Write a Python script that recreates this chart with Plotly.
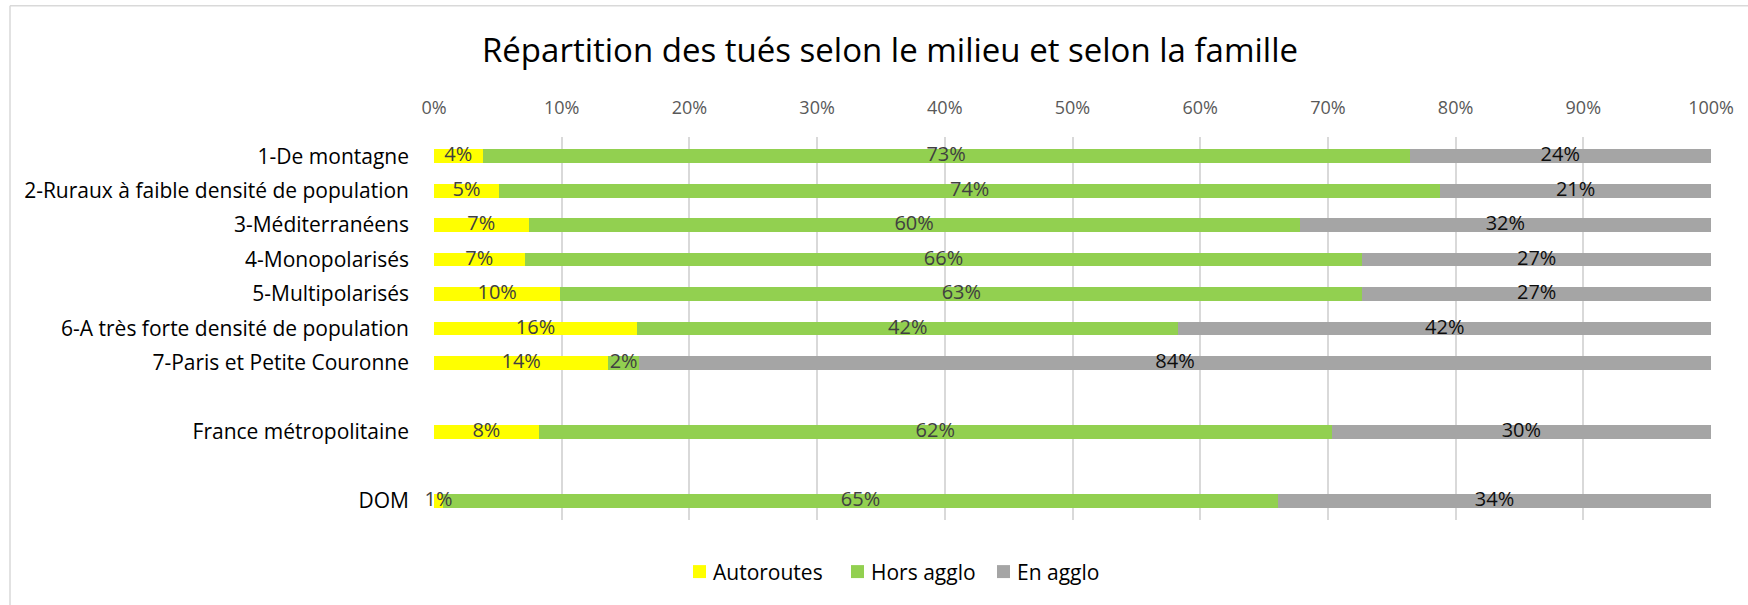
import plotly.graph_objects as go

# ---- data ----
categories = [
    "1-De montagne",
    "2-Ruraux à faible densité de population",
    "3-Méditerranéens",
    "4-Monopolarisés",
    "5-Multipolarisés",
    "6-A très forte densité de population",
    "7-Paris et Petite Couronne",
    " ",
    "France métropolitaine",
    "  ",
    "DOM",
]
autoroutes = [3.8, 5.1, 7.4, 7.1, 9.9, 15.9, 13.65, None, 8.2, None, 0.7]
hors_agglo = [72.6, 73.7, 60.4, 65.6, 62.8, 42.4, 2.4, None, 62.1, None, 65.4]
en_agglo = [23.6, 21.2, 32.2, 27.3, 27.3, 41.7, 83.95, None, 29.7, None, 33.9]
series_names = ["Autoroutes", "Hors agglo", "En agglo"]
x_ticks = [0, 10, 20, 30, 40, 50, 60, 70, 80, 90, 100]
title_text = "Répartition des tués selon le milieu et selon la famille"

# ---- layout constants ----
W, H = 1748, 605
ML, MR, MT, MB = 434, 37, 136.5, 84.7
FONT = "Open Sans"
colors = ["#FFFF00", "#92D050", "#A5A5A5"]
label_colors = ["#404040", "#404040", "#0D0D0D"]

pw = W - ML - MR
ph = H - MT - MB


def px(x):
    return (x - ML) / pw


def py(y):
    return (H - MB - y) / ph


series = [autoroutes, hors_agglo, en_agglo]

fig = go.Figure()
for name, vals, col in zip(series_names, series, colors):
    fig.add_trace(go.Bar(
        name=name,
        y=categories,
        x=vals,
        orientation="h",
        marker=dict(color=col, line=dict(width=0)),
        hoverinfo="skip",
        showlegend=False,
    ))

# data labels on top of all bars (centre of each stacked segment)
base = [0.0 if v is not None else None for v in autoroutes]
for name, vals, lcol in zip(series_names, series, label_colors):
    mids, texts = [], []
    for i, v in enumerate(vals):
        if v is None:
            mids.append(None)
            texts.append("")
        else:
            mids.append(base[i] + v / 2)
            texts.append(f"{v:.0f}%")
            base[i] += v
    fig.add_trace(go.Scatter(
        x=mids, y=categories, mode="text", text=texts,
        textposition="middle center",
        textfont=dict(family=FONT, size=20, color=lcol),
        cliponaxis=False, hoverinfo="skip", showlegend=False,
    ))

fig.update_layout(
    width=W, height=H,
    barmode="stack",
    bargap=0.6,
    paper_bgcolor="white",
    plot_bgcolor="white",
    margin=dict(l=ML, r=MR, t=MT, b=MB, pad=0, autoexpand=False),
    font=dict(family=FONT, size=21, color="#000000"),
    title=dict(
        text=title_text,
        font=dict(family=FONT, size=33, color="#000000"),
        xref="container", yref="container",
        x=890 / W, y=1 - 50 / H,
        xanchor="center", yanchor="middle",
    ),
    xaxis=dict(
        side="top",
        range=[0, 100],
        tickvals=x_ticks,
        ticktext=[f"{v}%" for v in x_ticks],
        showgrid=True,
        gridcolor="#D9D9D9",
        gridwidth=1.5,
        zeroline=False,
        showline=False,
        ticks="",
        automargin=False,
        tickfont=dict(family=FONT, size=18, color="#595959"),
        ticklabelstandoff=18,
    ),
    yaxis=dict(
        categoryorder="array",
        categoryarray=categories,
        autorange="reversed",
        showgrid=False,
        zeroline=False,
        showline=False,
        ticks="",
        automargin=False,
        tickfont=dict(family=FONT, size=21, color="#000000"),
        ticklabelstandoff=24,
    ),
    showlegend=False,
)

# custom legend (square swatch + label), matching the reference spacing
legend_swatch_x = [693, 851, 997]
legend_y = 572
for name, col, sx in zip(series_names, colors, legend_swatch_x):
    fig.add_shape(type="rect", xref="paper", yref="paper",
                  x0=px(sx), x1=px(sx + 13), y0=py(legend_y + 6.5), y1=py(legend_y - 6.5),
                  fillcolor=col, line=dict(width=0))
    fig.add_annotation(xref="paper", yref="paper", x=px(sx + 18), y=py(legend_y),
                       text=name, showarrow=False, xanchor="left", yanchor="middle",
                       font=dict(family=FONT, size=21, color="#000000"))

# chart border (top and left edges visible in the reference)
fig.add_shape(type="line", xref="paper", yref="paper",
              x0=px(10), x1=px(W + 5), y0=py(5), y1=py(5),
              line=dict(color="#D9D9D9", width=1.5))
fig.add_shape(type="line", xref="paper", yref="paper",
              x0=px(10), x1=px(10), y0=py(5), y1=py(H + 5),
              line=dict(color="#D9D9D9", width=1.5))

fig.write_html("out.html", config={"displayModeBar": False},
               post_script="document.body.style.margin='0';")
